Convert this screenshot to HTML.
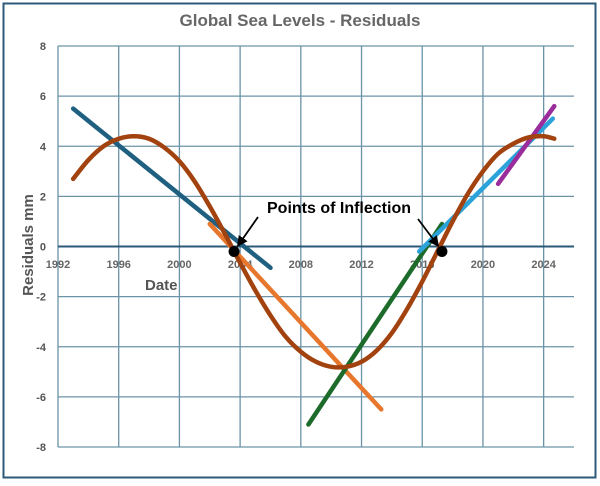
<!DOCTYPE html>
<html><head><meta charset="utf-8"><style>
body{margin:0;background:#fff;}
svg text{font-family:"Liberation Sans",sans-serif;font-weight:bold;}
</style></head><body>
<svg width="600" height="481" viewBox="0 0 600 481">
<defs><marker id="ah" markerWidth="6" markerHeight="6" refX="5" refY="3" orient="auto"><path d="M0,0 L6,3 L0,6 Z" fill="#000"/></marker></defs>
<rect x="3.5" y="3.5" width="592" height="474" fill="#fff" stroke="#2a5a78" stroke-width="2"/>
<text x="300" y="26" text-anchor="middle" font-size="17" fill="#666">Global Sea Levels - Residuals</text>
<g id="grid"></g>
<g id="series"></g>
<text transform="translate(33,245) rotate(-90)" text-anchor="middle" font-size="15" fill="#555">Residuals mm</text>
<text x="145" y="290" font-size="15" fill="#555">Date</text>
<text x="267" y="213" font-size="16" fill="#000">Points of Inflection</text>
</svg>
<script>
const xTicks=[1992,1996,2000,2004,2008,2012,2016,2020,2024];
const yTicks=[8,6,4,2,0,-2,-4,-6,-8];
const darkBlueX=[1993,2006]; const darkBlueY=[5.5,-0.85];
const orangeX=[2002,2013.3]; const orangeY=[0.9,-6.5];
const greenX=[2008.5,2017.3]; const greenY=[-7.1,0.9];
const lightBlueX=[2015.8,2024.6]; const lightBlueY=[-0.2,5.1];
const purpleX=[2021,2024.7]; const purpleY=[2.5,5.6];
const curveX=[1993,1994,1995,1996,1997,1998,1999,2000,2001,2002,2003,2004,2005,2006,2007,2008,2009,2010,2011,2012,2013,2014,2015,2016,2017,2018,2019,2020,2021,2022,2023,2024,2024.7];
const curveY=[2.7,3.45,4.0,4.3,4.4,4.3,3.95,3.4,2.6,1.6,0.5,-0.65,-1.75,-2.75,-3.6,-4.2,-4.6,-4.8,-4.8,-4.6,-4.15,-3.45,-2.5,-1.4,-0.2,1.0,2.1,3.0,3.7,4.1,4.35,4.4,4.3];
const inflX=[2003.6,2017.3]; const inflY=[-0.2,-0.2];
const X0=58,X1=574,Y0=46,Y1=447;
const sx=v=>X0+(v-1992)*(X1-X0)/(2026-1992);
const sy=v=>Y0+(8-v)*(Y1-Y0)/16;
const NS="http://www.w3.org/2000/svg";
function mk(tag,attrs,parent){const e=document.createElementNS(NS,tag);for(const k in attrs)e.setAttribute(k,attrs[k]);parent.appendChild(e);return e;}
const grid=document.getElementById('grid'),ser=document.getElementById('series');
xTicks.forEach(t=>{const l=mk('line',{x1:sx(t),x2:sx(t),y1:Y0,y2:Y1,stroke:'#6b93a8','stroke-width':1.3},grid);


const tx=mk('text',{x:sx(t),y:268,'text-anchor':'middle','font-size':11,fill:'#666'},grid);tx.textContent=t;

});
yTicks.forEach(t=>{const l=mk('line',{x1:X0,x2:X1,y1:sy(t),y2:sy(t),stroke:t===0?'#2a5a78':'#6b93a8','stroke-width':t===0?2:1.3},grid);


const tx=mk('text',{x:46,y:sy(t)+4,'text-anchor':'end','font-size':11,fill:'#555'},grid);tx.textContent=t;

});
function line(xs,ys,col,name){const p=mk('polyline',{points:xs.map((x,i)=>sx(x)+','+sy(ys[i])).join(' '),fill:'none',stroke:col,'stroke-width':4.5,'stroke-linecap':'round','stroke-linejoin':'round'},ser);

}
function smooth(xs,ys,col,name){const P=xs.map((x,i)=>[sx(x),sy(ys[i])]);let d='M'+P[0][0]+','+P[0][1];
for(let i=0;i<P.length-1;i++){const p0=P[Math.max(0,i-1)],p1=P[i],p2=P[i+1],p3=P[Math.min(P.length-1,i+2)];
d+=' C'+(p1[0]+(p2[0]-p0[0])/6)+','+(p1[1]+(p2[1]-p0[1])/6)+' '+(p2[0]-(p3[0]-p1[0])/6)+','+(p2[1]-(p3[1]-p1[1])/6)+' '+p2[0]+','+p2[1];}
const p=mk('path',{d:d,fill:'none',stroke:col,'stroke-width':4.5,'stroke-linecap':'round'},ser);

}
line(darkBlueX,darkBlueY,'#1f5f80','trend-line-1993-2006');
line(orangeX,orangeY,'#e8772e','trend-line-2002-2013');
line(greenX,greenY,'#1d6b2b','trend-line-2008-2017');
line(lightBlueX,lightBlueY,'#2ba3da','trend-line-2016-2024');
line(purpleX,purpleY,'#9a2c9c','trend-line-2021-2024');
smooth(curveX,curveY,'#a2420f','fitted-curve');
inflX.forEach((x,i)=>{const c=mk('circle',{cx:sx(x),cy:sy(inflY[i]),r:5.5,fill:'#000'},ser);

});
const a1=mk('line',{x1:258,y1:217,x2:sx(inflX[0])+4,y2:sy(inflY[0])-6,stroke:'#000','stroke-width':1.8,'marker-end':'url(#ah)'},ser);


const a2=mk('line',{x1:418,y1:219,x2:sx(inflX[1])-4,y2:sy(inflY[1])-6,stroke:'#000','stroke-width':1.8,'marker-end':'url(#ah)'},ser);


</script>
</body></html>
